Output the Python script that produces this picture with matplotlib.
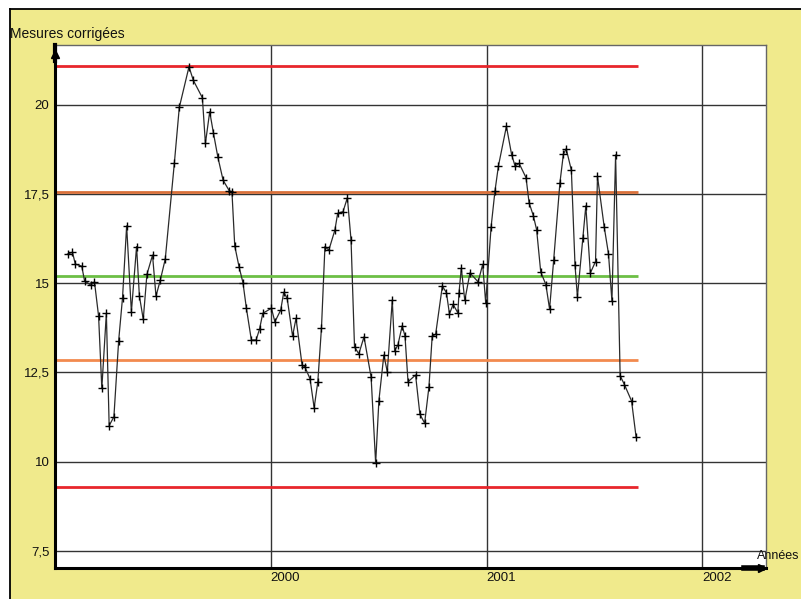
import matplotlib
matplotlib.use("Agg")
import matplotlib.pyplot as plt
from matplotlib.patches import Rectangle
from matplotlib.ticker import FixedLocator

plt.rcParams['font.family'] = ['Liberation Sans', 'DejaVu Sans']

# Measurement dates (decimal years) and corrected values
dates = [
    1999.058, 1999.081, 1999.094, 1999.124, 1999.137, 1999.166, 1999.183, 1999.202,
    1999.217, 1999.238, 1999.251, 1999.273, 1999.295, 1999.313, 1999.332, 1999.354,
    1999.378, 1999.391, 1999.409, 1999.426, 1999.452, 1999.468, 1999.488, 1999.511,
    1999.553, 1999.576, 1999.621, 1999.641, 1999.683, 1999.697, 1999.717, 1999.734,
    1999.755, 1999.779, 1999.808, 1999.820, 1999.833, 1999.853, 1999.871, 1999.887,
    1999.910, 1999.932, 1999.948, 1999.963, 2000.003, 2000.019, 2000.046, 2000.060,
    2000.076, 2000.101, 2000.117, 2000.145, 2000.158, 2000.182, 2000.201, 2000.218,
    2000.235, 2000.251, 2000.269, 2000.297, 2000.310, 2000.335, 2000.355, 2000.372,
    2000.388, 2000.408, 2000.432, 2000.465, 2000.486, 2000.501, 2000.524, 2000.540,
    2000.563, 2000.574, 2000.589, 2000.609, 2000.622, 2000.636, 2000.671, 2000.691,
    2000.713, 2000.733, 2000.748, 2000.764, 2000.795, 2000.814, 2000.828, 2000.845,
    2000.867, 2000.872, 2000.883, 2000.899, 2000.923, 2000.961, 2000.982, 2000.996,
    2001.021, 2001.039, 2001.055, 2001.092, 2001.116, 2001.132, 2001.151, 2001.183,
    2001.197, 2001.217, 2001.232, 2001.251, 2001.275, 2001.292, 2001.311, 2001.340,
    2001.356, 2001.369, 2001.393, 2001.410, 2001.421, 2001.446, 2001.460, 2001.481,
    2001.505, 2001.514, 2001.545, 2001.565, 2001.581, 2001.598, 2001.619, 2001.639,
    2001.672, 2001.693,
]
values = [
    15.82, 15.87, 15.54, 15.48, 15.07, 14.95, 15.04, 14.08,
    12.06, 14.16, 11.01, 11.26, 13.39, 14.60, 16.61, 14.20,
    16.03, 14.65, 13.99, 15.25, 15.79, 14.64, 15.09, 15.68,
    18.36, 19.93, 21.07, 20.69, 20.20, 18.92, 19.81, 19.22,
    18.53, 17.89, 17.59, 17.57, 16.05, 15.46, 15.02, 14.30,
    13.41, 13.41, 13.72, 14.16, 14.30, 13.92, 14.25, 14.75,
    14.58, 13.52, 14.02, 12.71, 12.66, 12.32, 11.51, 12.24,
    13.76, 16.03, 15.93, 16.49, 16.96, 17.01, 17.40, 16.21,
    13.22, 13.02, 13.50, 12.37, 9.96, 11.71, 12.99, 12.52,
    14.53, 13.11, 13.27, 13.81, 13.52, 12.24, 12.43, 11.33,
    11.08, 12.10, 13.52, 13.57, 14.92, 14.74, 14.14, 14.41,
    14.17, 14.72, 15.43, 14.52, 15.29, 15.04, 15.53, 14.45,
    16.58, 17.59, 18.29, 19.40, 18.61, 18.29, 18.36, 17.96,
    17.26, 16.89, 16.50, 15.32, 14.96, 14.28, 15.65, 17.82,
    18.62, 18.77, 18.17, 15.50, 14.62, 16.26, 17.17, 15.29,
    15.61, 18.00, 16.59, 15.83, 14.50, 18.60, 12.41, 12.16,
    11.70, 10.69,
]

# Control limits: action, warning, mean, warning, action
limit_values = [21.10, 17.56, 15.21, 12.85, 9.28]
limit_colors = ['#e8262c', '#d9703a', '#6cbf45', '#f28a4e', '#e8262c']
limit_end = 2001.70

y_ticks = [7.5, 10, 12.5, 15, 17.5, 20]
y_tick_labels = ['7,5', '10', '12,5', '15', '17,5', '20']
x_ticks = [2000, 2001, 2002]
x_tick_labels = ['2000', '2001', '2002']

W, H = 801, 599
fig = plt.figure(figsize=(W / 100, H / 100), dpi=100)
fig.patch.set_facecolor('white')

# Khaki panel with a black frame on its top and left edges
fig.patches.append(Rectangle((10 / W, 0), 1 - 10 / W, 1 - 9 / H,
                             transform=fig.transFigure, facecolor='#f0ea8c',
                             edgecolor='none', zorder=-10))
fig.lines.append(plt.Line2D([10 / W, 10 / W], [0, 1 - 9 / H], transform=fig.transFigure,
                            color='black', lw=1.3, zorder=-5))
fig.lines.append(plt.Line2D([10 / W, 1], [1 - 9 / H, 1 - 9 / H], transform=fig.transFigure,
                            color='black', lw=1.3, zorder=-5))

ax_l, ax_r, ax_t, ax_b = 55 / W, 766 / W, 1 - 45 / H, 1 - 568 / H
ax = fig.add_axes([ax_l, ax_b, ax_r - ax_l, ax_t - ax_b])
ax.set_zorder(1)
ax.set_facecolor('white')

x_min, x_max = 1999.0, 2002.295
y_min, y_max = 7.02, 21.68
ax.set_xlim(x_min, x_max)
ax.set_ylim(y_min, y_max)

# Grid
for yv in y_ticks:
    ax.axhline(yv, color='#333333', lw=1.0, zorder=1)
for xv in x_ticks:
    ax.axvline(xv, color='#333333', lw=1.0, zorder=1)

# Control limits
for lv, lc in zip(limit_values, limit_colors):
    ax.plot([x_min, limit_end], [lv, lv], color=lc, lw=2.0, zorder=2,
            solid_capstyle='butt')

# Series
ax.plot(dates, values, color='#2a2a2a', lw=0.9, marker='+', ms=5.5, mew=1.0,
        mec='black', zorder=3)

# Axes styling
ax.yaxis.set_major_locator(FixedLocator(y_ticks))
ax.set_yticklabels(y_tick_labels)
ax.xaxis.set_major_locator(FixedLocator(x_ticks))
ax.set_xticklabels(x_tick_labels, ha='left')
ax.tick_params(axis='both', length=0, labelsize=9.5, colors='#111111')
ax.tick_params(axis='y', pad=4)
ax.tick_params(axis='x', pad=3)
for side in ('left', 'bottom'):
    ax.spines[side].set_color('black')
    ax.spines[side].set_linewidth(2.2)
for side in ('top', 'right'):
    ax.spines[side].set_color('#666666')
    ax.spines[side].set_linewidth(1.0)

# Axis arrow heads
ax.plot([x_min], [y_max - 0.25], marker='^', ms=6, color='black',
        clip_on=False, zorder=5)
ax.plot([x_min, x_min], [y_max - 0.45, y_max], color='black', lw=3,
        clip_on=False, zorder=5)
ax.plot([x_max - 0.02], [y_min], marker='>', ms=6, color='black',
        clip_on=False, zorder=5)
ax.plot([x_max - 0.10, x_max - 0.02], [y_min, y_min], color='black', lw=4,
        clip_on=False, zorder=5)

# Axis titles
fig.text(10 / W, 1 - 34 / H, 'Mesures corrigées', fontsize=10, ha='left',
         va='center', color='#111111')
fig.text(799 / W, 1 - 556 / H, 'Années', fontsize=9, ha='right',
         va='center', color='#111111')

fig.savefig('out.png', dpi=100, facecolor=fig.get_facecolor())
